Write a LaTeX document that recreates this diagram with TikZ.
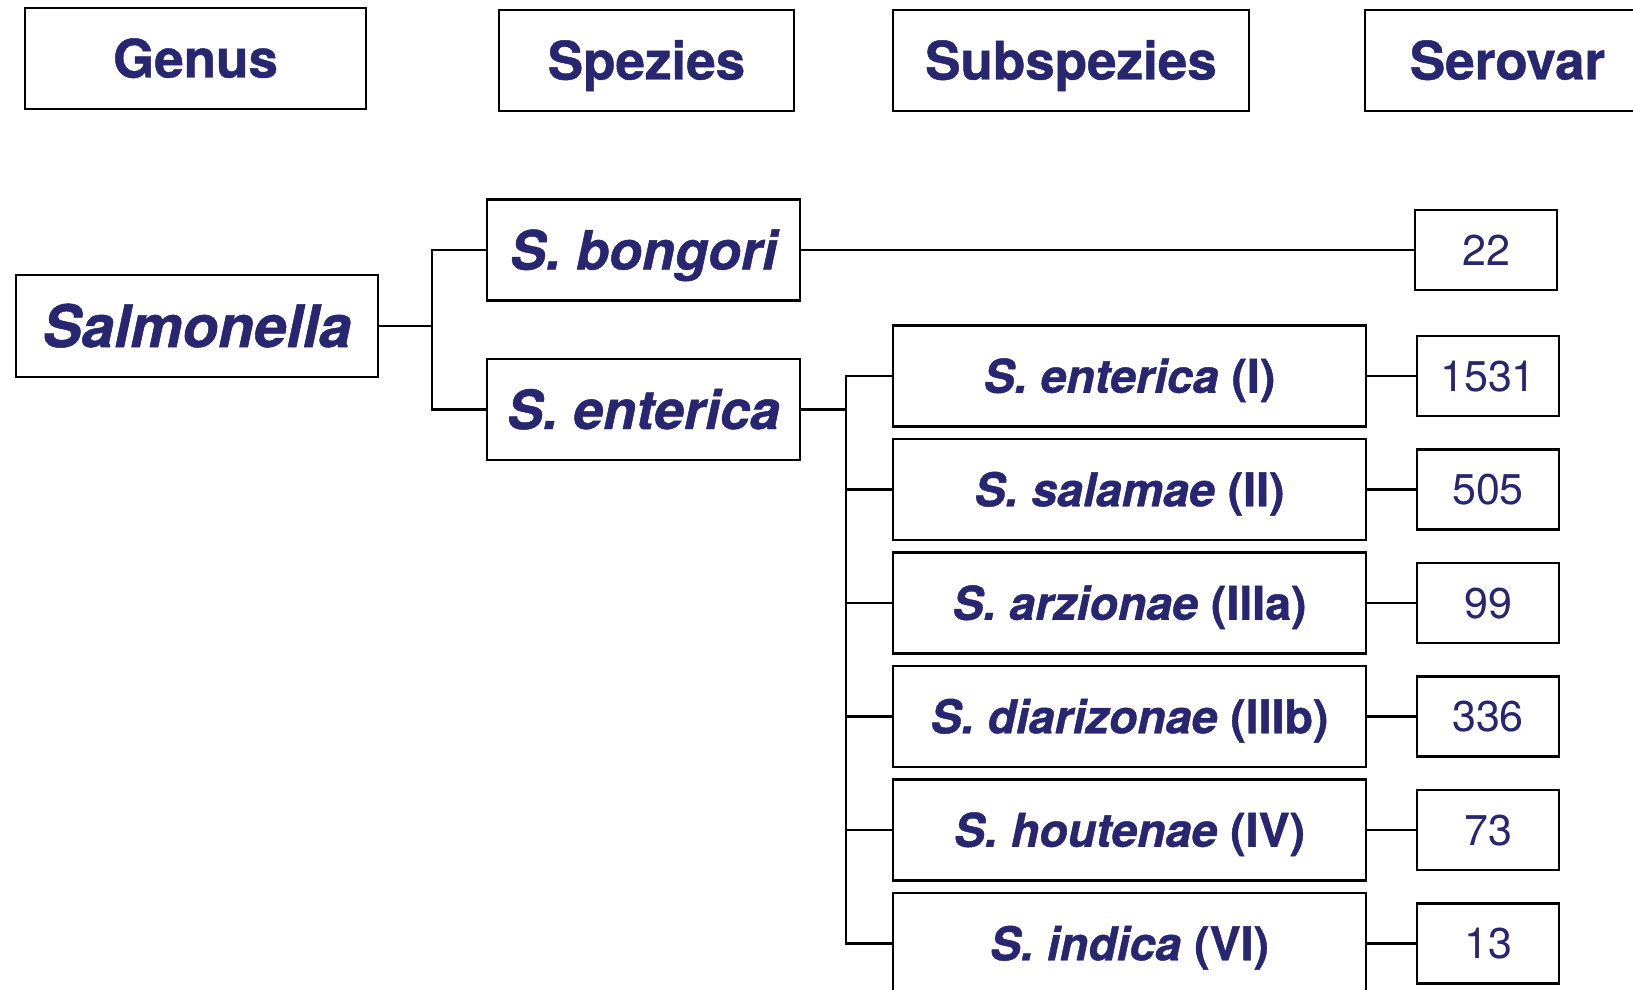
\documentclass[tikz,border=0pt]{standalone}
\usepackage{fontspec}
\setmainfont{TeX Gyre Heros}[
  BoldFeatures={FakeBold=0.9},
  BoldItalicFeatures={FakeBold=0.9}]
\definecolor{navy}{RGB}{40,38,112}
\begin{document}
\begin{tikzpicture}[x=1pt,y=-1pt,
  box/.style={draw=black, line width=2.5pt, inner sep=0pt, outer sep=0pt,
    text=navy, text depth=0pt, align=center},
  head/.style={box, minimum height=101pt, text height=38pt, font=\fontsize{53}{60}\selectfont\bfseries},
  genus/.style={box, minimum height=102pt, text height=42pt, font=\fontsize{58.5}{66}\selectfont\bfseries\itshape},
  species/.style={box, minimum width=313pt, minimum height=101pt, text height=39pt, font=\fontsize{54}{62}\selectfont\bfseries\itshape},
  subsp/.style={box, minimum width=473pt, minimum height=101pt, text height=33.5pt, font=\fontsize{46.5}{52}\selectfont\bfseries},
  count/.style={box, minimum width=142pt, minimum height=80pt, text height=30.5pt, font=\fontsize{43}{48}\selectfont},
  link/.style={draw=black, line width=2.8pt, line join=miter}
]
\useasboundingbox (0,0) rectangle (1633,990);
\clip (0,0) rectangle (1633,990);

% column headings
\node[head, minimum width=341pt] (hgenus) at (195.5,58.5) {Genus};
\node[head, minimum width=295pt] (hspez) at (646.5,60.5) {Spezies};
\node[head, minimum width=356pt] (hsub) at (1071,60.5) {Subspezies};
\node[head, minimum width=285pt] (hser) at (1507.5,60.5) {Serovar};

% genus and species
\node[genus, minimum width=362pt] (sal) at (197,326) {Salmonella};
\node[species] (bong) at (643.5,250) {S. bongori};
\node[species] (ent) at (643.5,409.5) {S. enterica};

% subspecies
\node[subsp] (s1) at (1129.5,376) {\textit{S. enterica} (I)};
\node[subsp] (s2) at (1129.5,489.5) {\textit{S. salamae} (II)};
\node[subsp] (s3) at (1129.5,603) {\textit{S. arzionae} (IIIa)};
\node[subsp] (s4) at (1129.5,716.5) {\textit{S. diarizonae} (IIIb)};
\node[subsp] (s5) at (1129.5,830) {\textit{S. houtenae} (IV)};
\node[subsp] (s6) at (1129.5,943.5) {\textit{S. indica} (VI)};

% serovar counts
\node[count] (n0) at (1486,250) {22};
\node[count] (n1) at (1488,376) {1531};
\node[count] (n2) at (1488,489.5) {505};
\node[count] (n3) at (1488,603) {99};
\node[count] (n4) at (1488,716.5) {336};
\node[count] (n5) at (1488,830) {73};
\node[count] (n6) at (1488,943.5) {13};

% branching points
\coordinate (jsal) at (432,326);
\coordinate (jent) at (846,409.5);

% connectors
\draw[link] (sal.east) -- (jsal);
\draw[link] (bong.west) -| (jsal);
\draw[link] (ent.west) -| (jsal);
\draw[link] (bong.east) -- (n0.west);
\draw[link] (ent.east) -- (jent);
\foreach \i in {1,...,6}{
  \draw[link] (s\i.west) -| (jent);
  \draw[link] (s\i.east) -- (n\i.west);
}
\end{tikzpicture}
\end{document}
